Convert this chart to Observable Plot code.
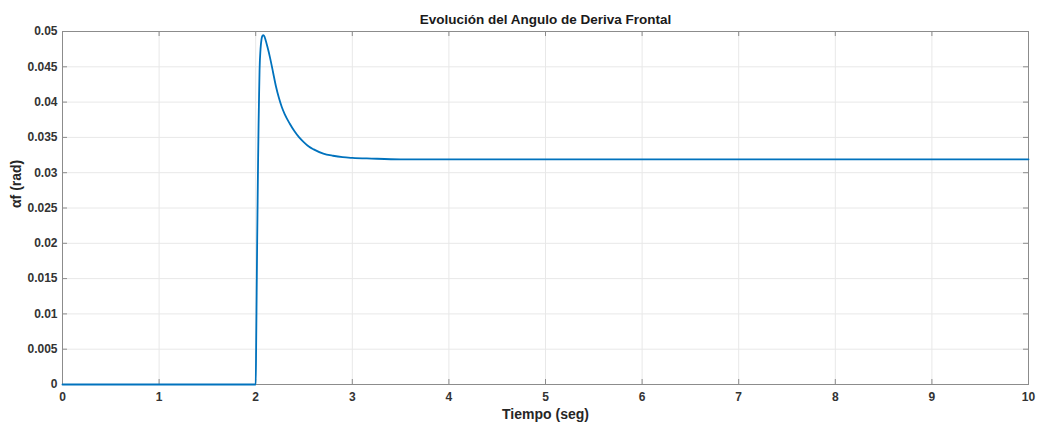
<!DOCTYPE html>
<html>
<head>
<meta charset="utf-8">
<script src="https://cdn.jsdelivr.net/npm/d3@7"></script>
<script src="https://cdn.jsdelivr.net/npm/@observablehq/plot@0.6"></script>
<style>
  html, body { margin: 0; padding: 0; background: #fff; }
  svg text { font-family: "Liberation Sans", Arial, Helvetica, sans-serif; }
</style>
</head>
<body>
<div id="chart"></div>
<script>
// ---- data ----
const title = "Evolución del Angulo de Deriva Frontal";
const xLabel = "Tiempo (seg)";
const yLabel = "αf (rad)";

const time = [0, 2.0, 2.005, 2.01, 2.015, 2.02, 2.025, 2.03, 2.035, 2.04, 2.05, 2.06, 2.07, 2.08, 2.09, 2.10, 2.12, 2.15, 2.18, 2.21, 2.24, 2.27, 2.30, 2.35, 2.40, 2.45, 2.50, 2.55, 2.60, 2.70, 2.80, 2.90, 3.0, 3.2, 3.5, 10];
const alphaF = [0, 0, 0.006, 0.013, 0.020, 0.026, 0.032, 0.037, 0.041, 0.0445, 0.0475, 0.0489, 0.0494, 0.0495, 0.0493, 0.0489, 0.0479, 0.0462, 0.0442, 0.0422, 0.0406, 0.0393, 0.0383, 0.0370, 0.0359, 0.0350, 0.0343, 0.0337, 0.0333, 0.0327, 0.0324, 0.0322, 0.0321, 0.0320, 0.0319, 0.0319];

const xTicks = [0, 1, 2, 3, 4, 5, 6, 7, 8, 9, 10];
const yTicks = [0, 0.005, 0.01, 0.015, 0.02, 0.025, 0.03, 0.035, 0.04, 0.045, 0.05];
const yTickLabels = ["0", "0.005", "0.01", "0.015", "0.02", "0.025", "0.03", "0.035", "0.04", "0.045", "0.05"];

const series = time.map((t, i) => ({t, a: alphaF[i]}));

// ---- layout ----
const W = 1037, H = 424;
const mL = 62, mR = 9, mT = 31, mB = 40;
const fw = W - mL - mR, fh = H - mT - mB;
const tickLen = 5;
const axisColor = "#8c8c8c";
const textColor = "#333333";

const chart = Plot.plot({
  width: W,
  height: H,
  marginLeft: mL,
  marginRight: mR,
  marginTop: mT,
  marginBottom: mB,
  style: {fontFamily: "Liberation Sans, Arial, sans-serif", background: "#fff"},
  x: {domain: [0, 10], label: null},
  y: {domain: [0, 0.05], label: null},
  marks: [
    Plot.gridX(xTicks, {stroke: "#e8e8e8", strokeOpacity: 1}),
    Plot.gridY(yTicks, {stroke: "#e8e8e8", strokeOpacity: 1}),
    // inward ticks on all four sides
    Plot.ruleX(xTicks, {x: d => d, insetTop: fh - tickLen, stroke: axisColor}),
    Plot.ruleX(xTicks, {x: d => d, insetBottom: fh - tickLen, stroke: axisColor}),
    Plot.ruleY(yTicks, {y: d => d, insetRight: fw - tickLen, stroke: axisColor}),
    Plot.ruleY(yTicks, {y: d => d, insetLeft: fw - tickLen, stroke: axisColor}),
    Plot.frame({stroke: axisColor}),
    Plot.axisX(xTicks, {tickSize: 0, tickPadding: 8, fontSize: 12, fontWeight: "bold", fill: textColor, label: null}),
    Plot.axisY(yTicks, {tickSize: 0, tickPadding: 5, fontSize: 12, fontWeight: "bold", fill: textColor, label: null,
      tickFormat: (d) => yTickLabels[yTicks.indexOf(d)]}),
    Plot.line(series, {x: "t", y: "a", stroke: "#0072BD", strokeWidth: 1.8, curve: "monotone-x"}),
    Plot.text([title], {frameAnchor: "top", dy: -12, text: d => d, fontSize: 13.5, fontWeight: "bold", fill: "#1a1a1a", lineAnchor: "middle"}),
    Plot.text([xLabel], {frameAnchor: "bottom", dy: 30, text: d => d, fontSize: 14, fontWeight: "bold", fill: "#262626", lineAnchor: "middle"}),
    Plot.text([yLabel], {frameAnchor: "left", dx: -46, rotate: -90, text: d => d, fontSize: 14, fontWeight: "bold", fill: "#262626", lineAnchor: "middle"})
  ]
});
document.getElementById("chart").appendChild(chart);
</script>
</body>
</html>
